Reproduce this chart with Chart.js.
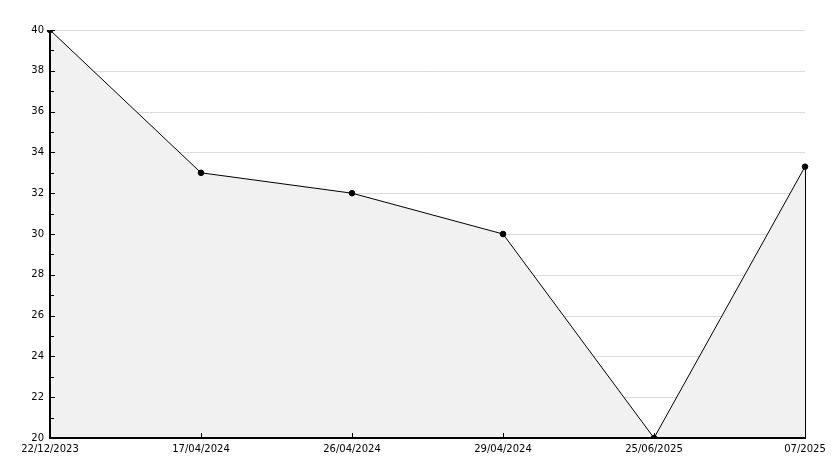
<!DOCTYPE html>
<html>
<head>
<meta charset="utf-8">
<script src="https://cdn.jsdelivr.net/npm/chart.js@4/dist/chart.umd.min.js"></script>
<style>
  html, body { margin: 0; padding: 0; background: #fff; }
  #wrap { width: 834px; height: 468px; }
</style>
</head>
<body>
<div id="wrap"><canvas id="lineChart" width="834" height="468"></canvas></div>
<script>
// 데이터
const dates = ['22/12/2023', '17/04/2024', '26/04/2024', '29/04/2024', '25/06/2025', '07/2025'];
const values = [40, 33, 32, 30, 20, 33.3];
const yMin = 20;
const yMax = 40;
const yStep = 2;

// 그리드는 선 위쪽 영역에만, 축/눈금은 맨 위에 그리기
const axisPlugin = {
  id: 'axisPlugin',
  beforeDatasetsDraw(chart) {
    const ctx = chart.ctx;
    const y = chart.scales.y;
    const area = chart.chartArea;
    const pts = chart.getDatasetMeta(0).data;
    ctx.save();
    // 선 위쪽 영역으로 clip
    ctx.beginPath();
    ctx.moveTo(area.left, area.top - 1);
    pts.forEach(p => ctx.lineTo(p.x, p.y));
    ctx.lineTo(area.right, area.top - 1);
    ctx.closePath();
    ctx.clip();
    ctx.strokeStyle = '#dcdcdc';
    ctx.lineWidth = 1;
    ctx.beginPath();
    for (let v = yMin + yStep; v <= yMax; v += yStep) {
      const py = Math.round(y.getPixelForValue(v)) + 0.5;
      ctx.moveTo(area.left, py);
      ctx.lineTo(area.right, py);
    }
    ctx.stroke();
    ctx.restore();
  },
  afterDatasetsDraw(chart) {
    const ctx = chart.ctx;
    const x = chart.scales.x;
    const y = chart.scales.y;
    const area = chart.chartArea;
    ctx.save();
    ctx.strokeStyle = '#000';
    ctx.lineWidth = 1;
    ctx.beginPath();
    // y 눈금 (주 눈금 + 보조 눈금)
    for (let v = yMin; v <= yMax; v += 1) {
      const py = Math.round(y.getPixelForValue(v)) + 0.5;
      const len = (v % yStep === 0) ? 5 : 4;
      ctx.moveTo(area.left, py);
      ctx.lineTo(area.left + len, py);
    }
    // x 눈금
    dates.forEach((d, i) => {
      const px = Math.round(x.getPixelForValue(i)) + 0.5;
      ctx.moveTo(px, area.bottom);
      ctx.lineTo(px, area.bottom - 5);
    });
    // 마지막 점에서 아래로 세로선
    const last = chart.getDatasetMeta(0).data[values.length - 1];
    const lx = Math.round(last.x) + 0.5;
    ctx.moveTo(lx, last.y);
    ctx.lineTo(lx, area.bottom);
    ctx.stroke();
    // 축 선
    ctx.fillStyle = '#000';
    const ax = Math.round(area.left);
    const ay = Math.round(area.bottom);
    ctx.fillRect(ax - 1, Math.round(area.top), 2, ay - Math.round(area.top) + 1);
    ctx.fillRect(ax - 1, ay - 1, Math.round(area.right) - ax + 2, 2);
    ctx.restore();
  }
};

const ctx = document.getElementById('lineChart').getContext('2d');
new Chart(ctx, {
  type: 'line',
  data: {
    labels: dates,
    datasets: [{
      data: values,
      borderColor: '#000',
      borderWidth: 1,
      backgroundColor: '#f1f1f1',
      fill: 'start',
      tension: 0,
      pointRadius: 2.8,
      pointBackgroundColor: '#000',
      pointBorderColor: '#000',
      pointBorderWidth: 1
    }]
  },
  options: {
    responsive: false,
    animation: false,
    events: [],
    layout: { padding: { top: 30, right: 29, left: 0, bottom: 0 } },
    plugins: {
      legend: { display: false },
      tooltip: { enabled: false }
    },
    scales: {
      x: {
        offset: false,
        grid: { display: false, drawTicks: false },
        border: { display: false },
        ticks: {
          color: '#000',
          font: { family: 'DejaVu Sans', size: 10 },
          padding: 5,
          maxRotation: 0,
          autoSkip: false
        },
        afterFit(scale) { scale.height = 30; }
      },
      y: {
        min: yMin,
        max: yMax,
        grid: { display: false, drawTicks: false },
        border: { display: false },
        ticks: {
          stepSize: yStep,
          color: '#000',
          font: { family: 'DejaVu Sans', size: 10 },
          padding: 6
        },
        afterFit(scale) { scale.width = 50; }
      }
    }
  },
  plugins: [axisPlugin]
});
</script>
</body>
</html>
